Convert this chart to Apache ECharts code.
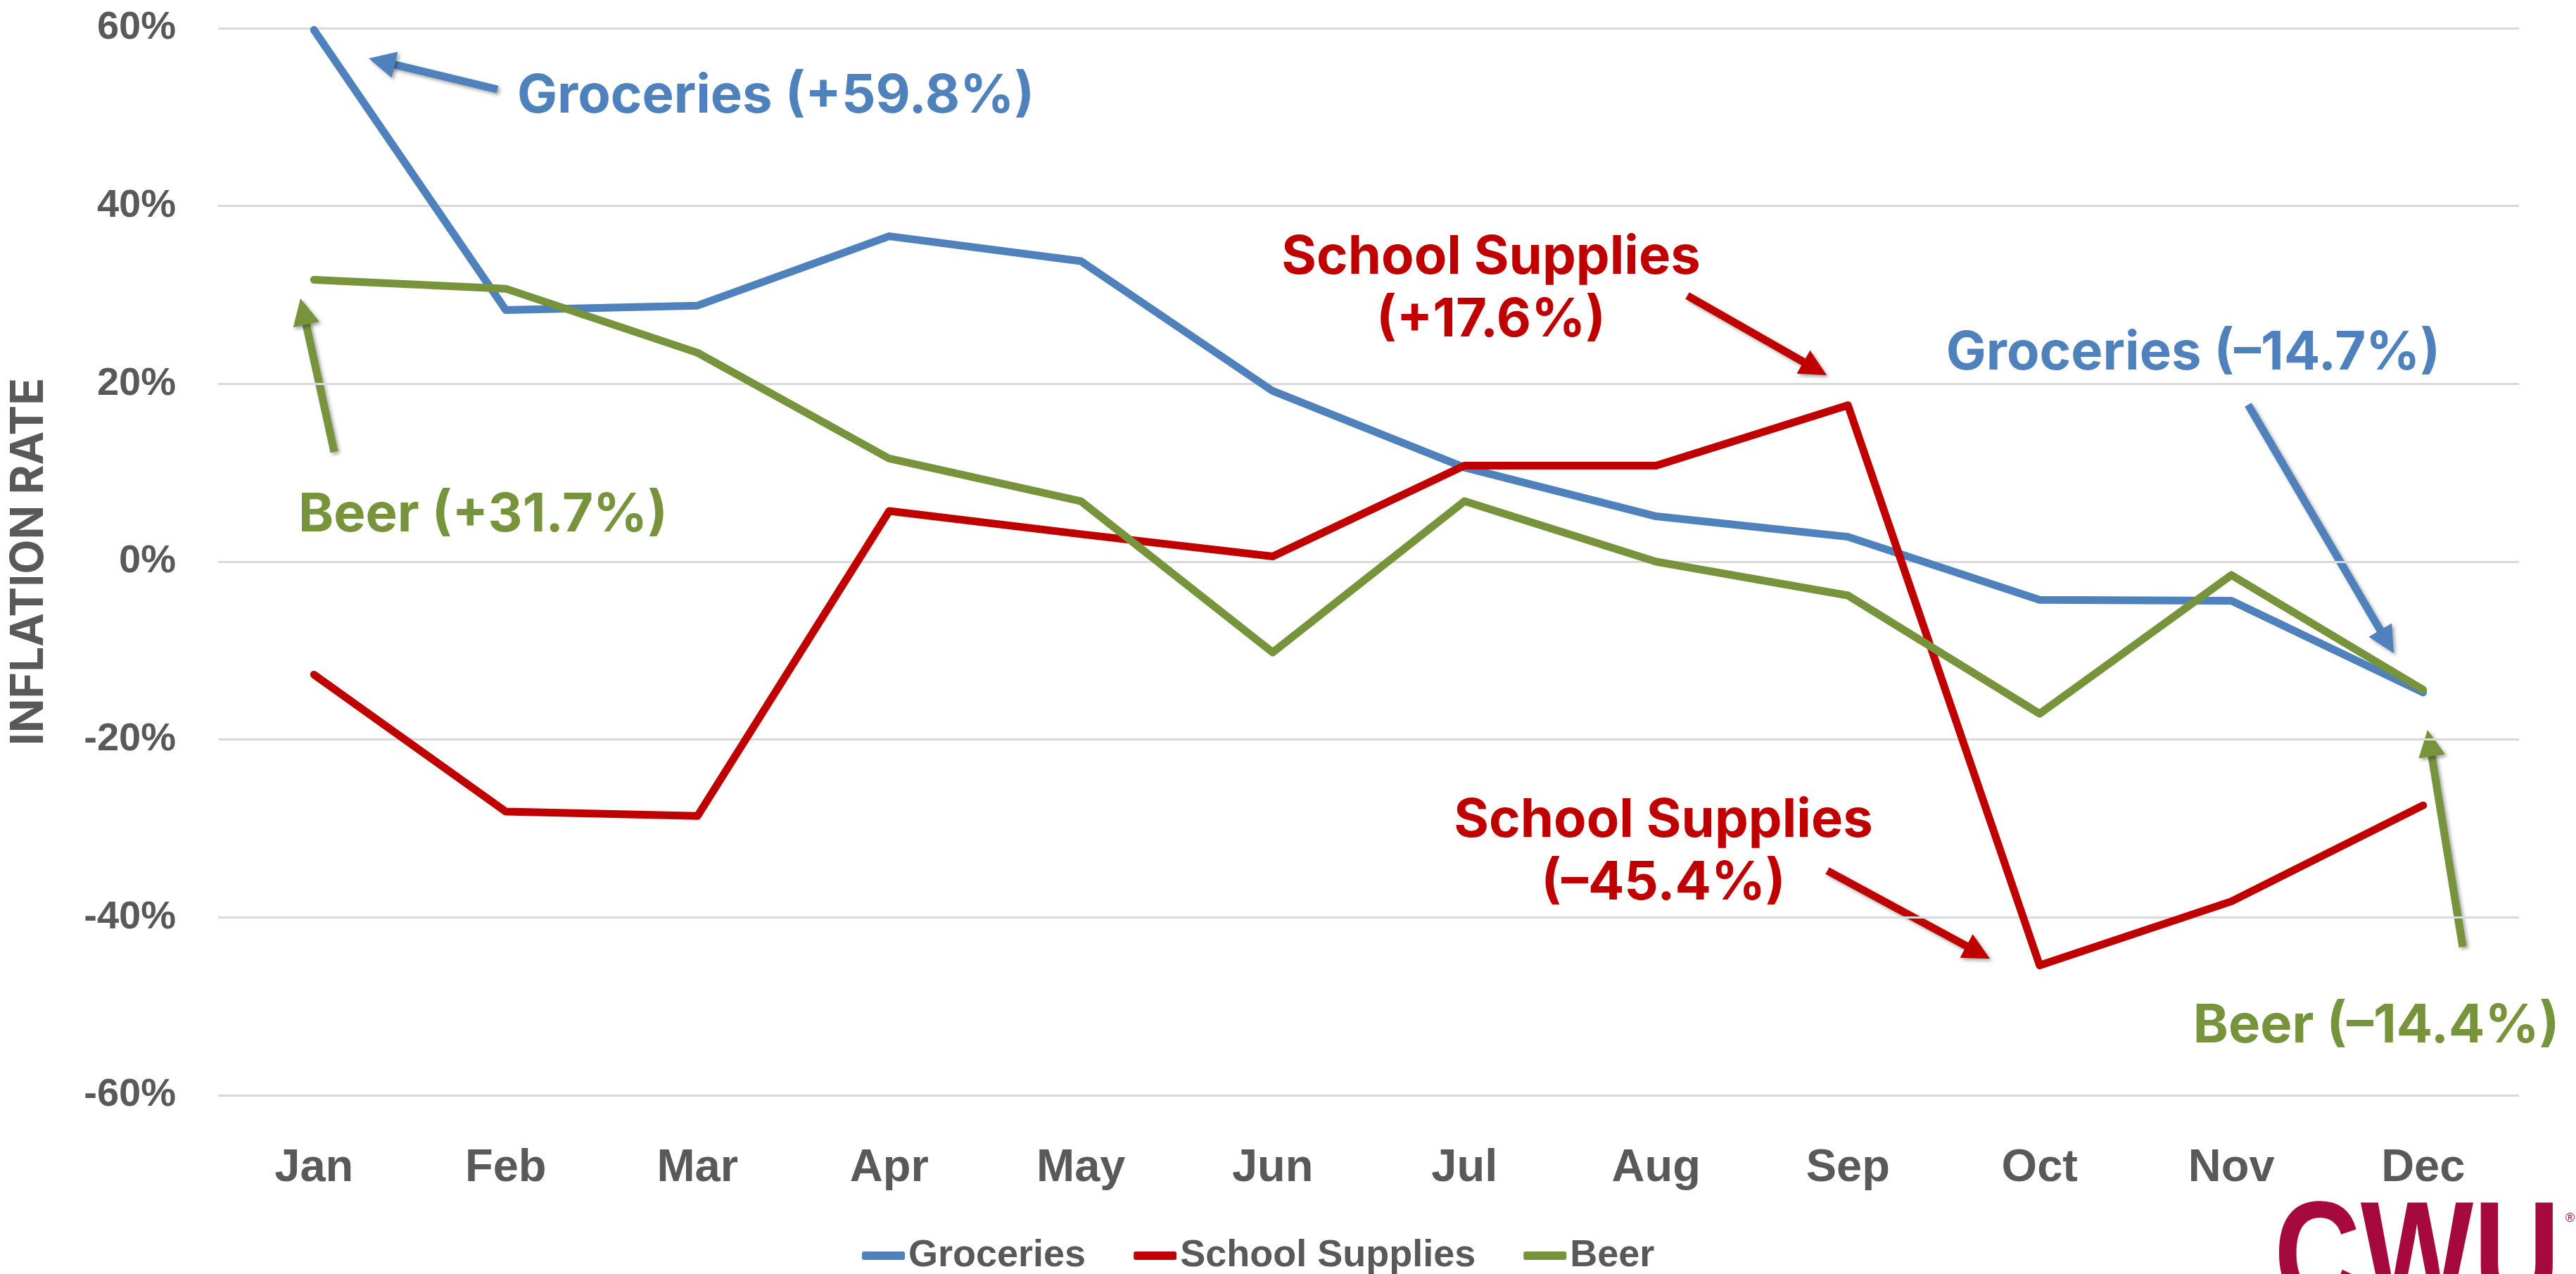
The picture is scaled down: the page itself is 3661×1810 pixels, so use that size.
<!DOCTYPE html>
<html>
<head>
  <meta charset="utf-8">
  <title>Inflation rate by month</title>
  <script src="https://cdn.jsdelivr.net/npm/echarts@6/dist/echarts.min.js"></script>
  <style>
    html, body { margin: 0; padding: 0; background: #fff; }
    #chart { width: 3661px; height: 1810px; }
  </style>
</head>
<body>
<div id="chart"></div>
<script type="text/javascript">
// data (percent)
var months = ['Jan', 'Feb', 'Mar', 'Apr', 'May', 'Jun', 'Jul', 'Aug', 'Sep', 'Oct', 'Nov', 'Dec'];
var groceries = [59.8, 28.3, 28.8, 36.6, 33.8, 19.2, 10.6, 5.1, 2.8, -4.3, -4.4, -14.7];
var schoolSupplies = [-12.7, -28.1, -28.6, 5.7, 3.1, 0.6, 10.8, 10.8, 17.6, -45.4, -38.2, -27.4];
var beer = [31.7, 30.7, 23.5, 11.6, 6.8, -10.2, 6.8, 0.0, -3.8, -17.1, -1.5, -14.4];
var seriesNames = ['Groceries', 'School Supplies', 'Beer'];
var yMin = -60, yMax = 60, yStep = 20;

var BLUE = '#4F81BD', RED = '#C00000', GREEN = '#77933C', GREY = '#595959';
var labelFont = '"Liberation Sans", Arial, sans-serif';
var noteFont = 'Inter, "Open Sans", sans-serif';

// annotation texts: [text, x, y, color, align]
var notes = [
  ['Groceries (+59.8%)', 735, 137, BLUE, 'left'],
  ['Beer (+31.7%)', 424, 732, GREEN, 'left'],
  ['School Supplies', 2119, 366, RED, 'center'],
  ['(+17.6%)', 2119, 455, RED, 'center'],
  ['Groceries (\u201314.7%)', 3117, 502, BLUE, 'center'],
  ['Beer (\u201314.4%)', 3377, 1458, GREEN, 'center'],
  ['School Supplies', 2364, 1166, RED, 'center'],
  ['(\u201345.4%)', 2364, 1255, RED, 'center']
];
// arrows: [tailX, tailY, tipX, tipY, color]
var arrows = [
  [707, 127, 524, 83, BLUE],
  [475, 642, 427, 424, GREEN],
  [2398, 420, 2596, 533, RED],
  [3195, 575, 3402, 928, BLUE],
  [3500, 1345, 3450, 1037, GREEN],
  [2597, 1237, 2828, 1362, RED]
];

function arrowGraphic(a) {
  var dx = a[2] - a[0], dy = a[3] - a[1];
  var len = Math.sqrt(dx * dx + dy * dy);
  var ux = dx / len, uy = dy / len;
  var headLen = 38, headW = 19;
  var bx = a[2] - ux * headLen, by = a[3] - uy * headLen;
  var shadow = { shadowBlur: 5, shadowColor: 'rgba(0,0,0,0.35)', shadowOffsetX: 3, shadowOffsetY: 3 };
  return {
    type: 'group',
    children: [
      {
        type: 'line',
        shape: { x1: a[0], y1: a[1], x2: bx + ux * 4, y2: by + uy * 4 },
        style: Object.assign({ stroke: a[4], lineWidth: 11, lineCap: 'butt' }, shadow)
      },
      {
        type: 'polygon',
        shape: { points: [[a[2], a[3]], [bx - uy * headW, by + ux * headW], [bx + uy * headW, by - ux * headW]] },
        style: Object.assign({ fill: a[4] }, shadow)
      }
    ]
  };
}

var graphics = [];
notes.forEach(function (n) {
  graphics.push({
    type: 'text',
    style: {
      text: n[0], x: n[1], y: n[2], fill: n[3],
      fontFamily: noteFont, fontSize: 76, fontWeight: 'bold',
      align: n[4], verticalAlign: 'middle'
    }
  });
});
arrows.forEach(function (a) { graphics.push(arrowGraphic(a)); });
// logo in the corner (cut off by the bottom edge, like the original)
graphics.push({
  type: 'text',
  x: 3232,
  y: 1795,
  scaleX: 0.81,
  style: {
    text: 'CWU', x: 0, y: 0, fill: '#A6093D',
    fontFamily: labelFont, fontSize: 210, fontWeight: 'bold',
    align: 'left', verticalAlign: 'middle'
  }
});
graphics.push({
  type: 'text',
  style: { text: '\u00AE', x: 3646, y: 1722, fill: '#A6093D', fontSize: 18, fontFamily: labelFont }
});

var chart = echarts.init(document.getElementById('chart'));
var option = {
  backgroundColor: '#ffffff',
  animation: false,
  grid: { left: 310, right: 81, top: 40, bottom: 254 },
  legend: {
    data: seriesNames,
    left: 1220,
    top: 1752,
    icon: 'roundRect',
    itemWidth: 61,
    itemHeight: 12,
    itemGap: 68,
    textStyle: { color: GREY, fontSize: 54, fontWeight: 'bold', fontFamily: labelFont }
  },
  xAxis: {
    type: 'category',
    data: months,
    boundaryGap: true,
    axisLine: { show: false },
    axisTick: { show: false },
    axisLabel: { color: GREY, fontSize: 65, fontWeight: 'bold', fontFamily: labelFont, margin: 72 }
  },
  yAxis: {
    type: 'value',
    min: yMin,
    max: yMax,
    interval: yStep,
    name: 'INFLATION RATE',
    nameLocation: 'middle',
    nameGap: 236,
    nameTextStyle: { color: GREY, fontSize: 64, fontWeight: 'bold', fontFamily: noteFont },
    axisLine: { show: false },
    axisTick: { show: false },
    axisLabel: { color: GREY, fontSize: 56, fontWeight: 'bold', fontFamily: labelFont, margin: 60, formatter: '{value}%' },
    splitLine: { lineStyle: { color: '#D9D9D9', width: 3 } }
  },
  series: [
    { name: seriesNames[0], type: 'line', data: groceries, color: BLUE, showSymbol: false,
      lineStyle: { width: 11, cap: 'round', join: 'round' } },
    { name: seriesNames[1], type: 'line', data: schoolSupplies, color: RED, showSymbol: false,
      lineStyle: { width: 11, cap: 'round', join: 'round' } },
    { name: seriesNames[2], type: 'line', data: beer, color: GREEN, showSymbol: false,
      lineStyle: { width: 11, cap: 'round', join: 'round' } }
  ],
  graphic: graphics
};
chart.setOption(option);
</script>
</body>
</html>
